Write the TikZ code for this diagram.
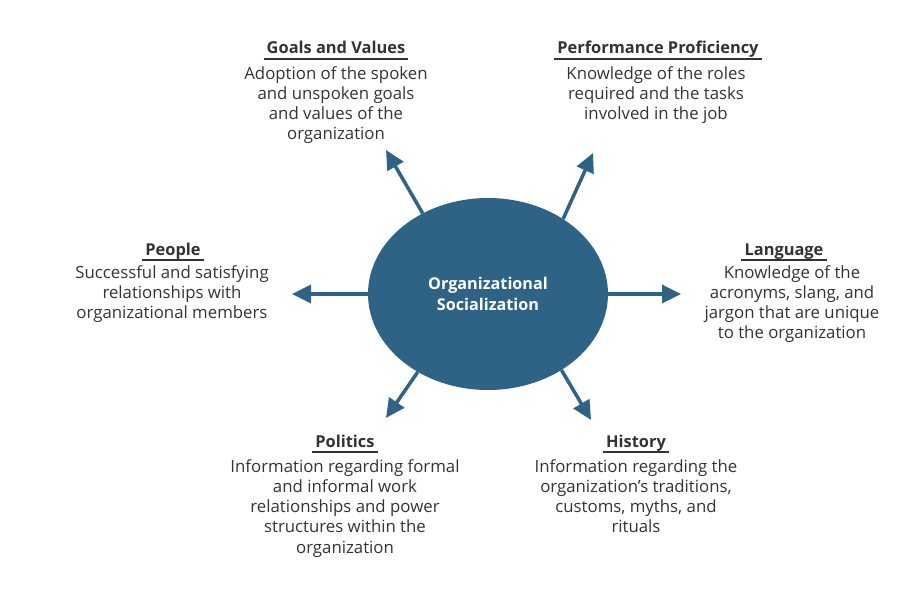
\documentclass[tikz,border=0pt]{standalone}
\usepackage{fontspec}
\setmainfont{Open Sans}
\usetikzlibrary{arrows.meta,shapes.geometric}
\definecolor{blu}{HTML}{2E6386}
\definecolor{txt}{HTML}{333333}
\tikzset{
  desc/.style={align=center,text=txt,font=\fontsize{16.8}{20.3}\selectfont,inner sep=0pt,anchor=north},
  ttl/.style={text=txt,font=\fontsize{16.4}{17}\selectfont\bfseries,inner sep=0pt,anchor=base},
  arr/.style={draw=blu,line width=3.5pt,-{Triangle[length=19pt,width=18pt]}},
}
\newcommand{\ttline}[1]{\draw[txt,line width=1.6pt] ([xshift=-3pt,yshift=-5pt]#1.base west) -- ([xshift=3pt,yshift=-5pt]#1.base east);}
\begin{document}
\begin{tikzpicture}[x=1pt,y=-1pt]
\useasboundingbox (0,0) rectangle (916,594);
\node[ellipse,fill=blu,minimum width=240pt,minimum height=192pt,inner sep=0pt,text=white,align=center,font=\fontsize{16.2}{21}\selectfont\bfseries] (c) at (488,294) {Organizational\\Socialization};

\node[ttl] (t1) at (336,54) {Goals and Values}; \ttline{t1}
\node[desc] (d1) at (336,66) {Adoption of the spoken\\and unspoken goals\\and values of the\\organization};
\node[ttl] (t2) at (658,54) {Performance Proficiency}; \ttline{t2}
\node[desc] (d2) at (656,66) {Knowledge of the roles\\required and the tasks\\involved in the job};
\node[ttl] (t3) at (173,255) {People}; \ttline{t3}
\node[desc] (d3) at (172,265) {Successful and satisfying\\relationships with\\organizational members};
\node[ttl] (t4) at (784,255) {Language}; \ttline{t4}
\node[desc] (d4) at (792,265) {Knowledge of the\\acronyms, slang, and\\jargon that are unique\\to the organization};
\node[ttl] (t5) at (345,447) {Politics}; \ttline{t5}
\node[desc] (d5) at (345,459) {Information regarding formal\\and informal work\\relationships and power\\structures within the\\organization};
\node[ttl] (t6) at (636,447) {History}; \ttline{t6}
\node[desc] (d6) at (636,459) {Information regarding the\\organization’s traditions,\\customs, myths, and\\rituals};

\coordinate (e1) at (386,150); \coordinate (e2) at (593,153);
\coordinate (e3) at (292,294); \coordinate (e4) at (681,294);
\coordinate (e5) at (386,418); \coordinate (e6) at (591,420);
\draw[arr] (c.129) -- (e1);
\draw[arr] (c.45) -- (e2);
\draw[arr] (c.west) -- (e3);
\draw[arr] (c.east) -- (e4);
\draw[arr] (c.228) -- (e5);
\draw[arr] (c.314) -- (e6);
\end{tikzpicture}
\end{document}
